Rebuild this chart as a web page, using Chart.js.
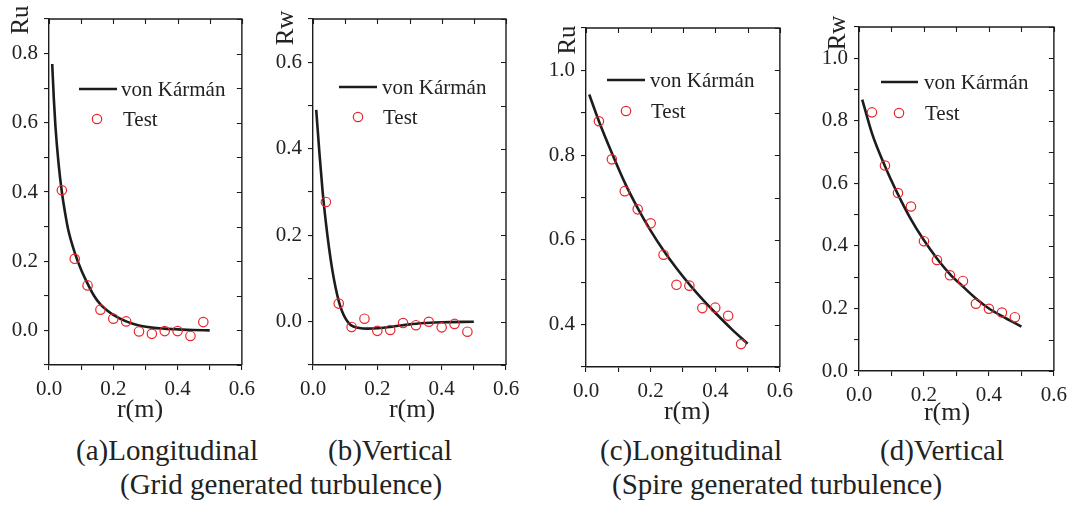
<!DOCTYPE html>
<html>
<head>
<meta charset="utf-8">
<script src="https://cdn.jsdelivr.net/npm/chart.js@4.4.0/dist/chart.umd.min.js"></script>
<style>
  body { margin: 0; background: #fff; width: 1074px; height: 505px; position: relative; overflow: hidden;
         font-family: 'Liberation Serif', 'Times New Roman', serif; }
  canvas { position: absolute; top: 0; }
  .cap { position: absolute; font-size: 29px; line-height: 29px; color: #222; white-space: nowrap; }
</style>
</head>
<body>
<canvas id="pa" width="262" height="425" style="left:0px"></canvas>
<canvas id="pb" width="268" height="425" style="left:262px"></canvas>
<canvas id="pc" width="270" height="425" style="left:530px"></canvas>
<canvas id="pd" width="274" height="425" style="left:800px"></canvas>

<div class="cap" style="left:76px;top:436px">(a)Longitudinal</div>
<div class="cap" style="left:328px;top:436px">(b)Vertical</div>
<div class="cap" style="left:600px;top:436px">(c)Longitudinal</div>
<div class="cap" style="left:880px;top:436px">(d)Vertical</div>
<div class="cap" style="left:120px;top:470px">(Grid generated turbulence)</div>
<div class="cap" style="left:612px;top:470px">(Spire generated turbulence)</div>

<script>
// ---------- data ----------
const rTest = [0.04, 0.08, 0.12, 0.16, 0.20, 0.24, 0.28, 0.32, 0.36, 0.40, 0.44, 0.48];

const ruGridTest  = [0.405, 0.207, 0.130, 0.060, 0.034, 0.026, -0.003, -0.010, -0.002, -0.002, -0.016, 0.024];
const rwGridTest  = [0.277, 0.042, -0.012, 0.007, -0.021, -0.019, -0.003, -0.008, 0.000, -0.013, -0.005, -0.023];
const ruSpireTest = [0.880, 0.790, 0.715, 0.672, 0.639, 0.565, 0.494, 0.492, 0.439, 0.440, 0.421, 0.354];
const rwSpireTest = [0.827, 0.657, 0.569, 0.526, 0.415, 0.355, 0.306, 0.288, 0.215, 0.199, 0.187, 0.172];

// von Karman curves (sampled by eye)
const rGridU  = [0.01, 0.015, 0.02, 0.03, 0.04, 0.05, 0.06, 0.08, 0.10, 0.12, 0.14, 0.16, 0.18, 0.20, 0.24, 0.28, 0.32, 0.36, 0.40, 0.45, 0.50];
const ruGridK = [0.77, 0.67, 0.59, 0.48, 0.40, 0.34, 0.29, 0.225, 0.175, 0.135, 0.10, 0.075, 0.058, 0.045, 0.026, 0.014, 0.008, 0.005, 0.003, 0.001, 0.0];

const rGridW  = [0.01, 0.02, 0.03, 0.04, 0.05, 0.06, 0.07, 0.08, 0.09, 0.10, 0.11, 0.12, 0.14, 0.17, 0.20, 0.25, 0.30, 0.35, 0.40, 0.50];
const rwGridK = [0.49, 0.39, 0.30, 0.23, 0.17, 0.12, 0.08, 0.048, 0.025, 0.009, -0.002, -0.009, -0.014, -0.016, -0.015, -0.011, -0.006, -0.003, -0.001, 0.0];

const rSpire   = [0.01, 0.04, 0.08, 0.12, 0.16, 0.20, 0.24, 0.28, 0.32, 0.36, 0.40, 0.45, 0.50];
const ruSpireK = [0.943, 0.88, 0.805, 0.735, 0.675, 0.622, 0.575, 0.533, 0.495, 0.46, 0.428, 0.39, 0.355];
const rwSpireK = [0.868, 0.76, 0.655, 0.565, 0.485, 0.418, 0.36, 0.31, 0.27, 0.232, 0.20, 0.17, 0.142];

const seriesNames = ['von Kármán', 'Test'];
const xTickLabels = ['0.0', '0.2', '0.4', '0.6'];

// ---------- look ----------
const FONT = "'Liberation Serif', 'Times New Roman', serif";
const INK = '#1c1c1c';
const RED = '#e8262b';

function pts(xs, ys) { return xs.map((x, i) => ({ x, y: ys[i] })); }

// frame (top/right), inward ticks, legend and axis titles
const panelDeco = {
  id: 'panelDeco',
  afterDraw(chart, args, o) {
    const { ctx, chartArea: a, scales: { x, y } } = chart;
    const off = o.offset;
    ctx.save();
    ctx.strokeStyle = INK;
    ctx.lineWidth = 1.4;
    ctx.beginPath();
    ctx.moveTo(a.left, a.top); ctx.lineTo(a.right, a.top); ctx.lineTo(a.right, a.bottom);
    ctx.stroke();

    ctx.lineWidth = 1.1;
    ctx.beginPath();
    for (let i = Math.round(x.min * 10); i <= Math.round(x.max * 10); i++) {
      const px = Math.round(x.getPixelForValue(i / 10)) + 0.5;
      ctx.moveTo(px, a.top); ctx.lineTo(px, a.top + 5);
    }
    for (let i = Math.round(y.min * 10); i <= Math.round(y.max * 10); i++) {
      const py = Math.round(y.getPixelForValue(i / 10)) + 0.5;
      ctx.moveTo(a.right, py); ctx.lineTo(a.right - 5, py);
    }
    ctx.stroke();

    // legend
    const ds = chart.data.datasets;
    const L = o.legend;
    ctx.strokeStyle = ds[0].borderColor;
    ctx.lineWidth = ds[0].borderWidth;
    ctx.beginPath();
    ctx.moveTo(L.x0 - off, L.y1); ctx.lineTo(L.x1 - off, L.y1);
    ctx.stroke();
    ctx.strokeStyle = ds[1].borderColor;
    ctx.lineWidth = ds[1].borderWidth;
    ctx.beginPath();
    ctx.arc(L.cx - off, L.y2, ds[1].pointRadius, 0, Math.PI * 2);
    ctx.stroke();
    ctx.fillStyle = '#222';
    ctx.font = '21px ' + FONT;
    ctx.textBaseline = 'middle';
    ctx.textAlign = 'left';
    ctx.fillText(ds[0].label, L.tx1 - off, L.y1 + 1);
    ctx.fillText(ds[1].label, L.tx2 - off, L.y2 + 1);

    // x title
    ctx.textAlign = 'center';
    ctx.font = '26px ' + FONT;
    ctx.fillText(o.xTitle, o.xt.x - off, o.xt.y);

    // y title (rotated)
    ctx.translate(o.yt.x - off, o.yt.y);
    ctx.rotate(-Math.PI / 2);
    ctx.font = '25px ' + FONT;
    ctx.fillText(o.yTitle, 0, 1);
    ctx.restore();
  }
};

function tickLabel(v) {
  const t = Math.round(v * 10);
  return t % 2 === 0 ? (t / 10).toFixed(1) : '';
}

function makePanel(id, p) {
  const H = 425;
  new Chart(document.getElementById(id), {
    type: 'scatter',
    data: {
      datasets: [
        {
          label: seriesNames[0],
          data: pts(p.curveX, p.curveY),
          showLine: true,
          borderColor: INK,
          borderWidth: 2.6,
          pointRadius: 0,
          tension: 0.4,
          cubicInterpolationMode: 'monotone',
          order: 2
        },
        {
          label: seriesNames[1],
          data: pts(rTest, p.test),
          showLine: false,
          borderColor: RED,
          backgroundColor: 'rgba(0,0,0,0)',
          borderWidth: 1.2,
          pointRadius: 4.7,
          pointStyle: 'circle',
          order: 1
        }
      ]
    },
    options: {
      responsive: false,
      animation: false,
      layout: { padding: { left: 0, top: p.top, right: p.padR, bottom: 0 } },
      plugins: {
        legend: { display: false },
        tooltip: { enabled: false },
        panelDeco: p.deco
      },
      scales: {
        x: {
          type: 'linear', min: 0, max: 0.6,
          afterFit: s => { s.height = H - p.bottom; },
          border: { display: true, color: INK, width: 1.4 },
          grid: { drawOnChartArea: false, drawTicks: true, tickLength: 5, color: INK, lineWidth: 1.1 },
          ticks: {
            stepSize: 0.1, autoSkip: false, maxRotation: 0, padding: 7,
            color: '#222', font: { family: FONT, size: 21 },
            callback: v => { const s = tickLabel(v); return xTickLabels.includes(s) ? s : ''; }
          }
        },
        y: {
          type: 'linear', min: p.yMin, max: p.yMax,
          afterFit: s => { s.width = p.left; },
          border: { display: true, color: INK, width: 1.4 },
          grid: { drawOnChartArea: false, drawTicks: true, tickLength: 5, color: INK, lineWidth: 1.1 },
          ticks: {
            stepSize: 0.1, autoSkip: false, padding: 6,
            color: '#222', font: { family: FONT, size: 21 },
            callback: tickLabel
          }
        }
      }
    },
    plugins: [panelDeco]
  });
}

makePanel('pa', {
  curveX: rGridU, curveY: ruGridK, test: ruGridTest,
  yMin: -0.1, yMax: 0.9, left: 49, top: 19, padR: 18, bottom: 365,
  deco: { offset: 0, yTitle: 'Ru', xTitle: 'r(m)', yt: { x: 20, y: 20 }, xt: { x: 140, y: 410 },
          legend: { x0: 79, x1: 117, y1: 89, tx1: 121, cx: 97, y2: 119, tx2: 123 } }
});
makePanel('pb', {
  curveX: rGridW, curveY: rwGridK, test: rwGridTest,
  yMin: -0.1, yMax: 0.7, left: 51, top: 19, padR: 24, bottom: 365,
  deco: { offset: 262, yTitle: 'Rw', xTitle: 'r(m)', yt: { x: 285, y: 28 }, xt: { x: 412, y: 410 },
          legend: { x0: 339, x1: 377, y1: 87, tx1: 382, cx: 358, y2: 117, tx2: 383 } }
});
makePanel('pc', {
  curveX: rSpire, curveY: ruSpireK, test: ruSpireTest,
  yMin: 0.3, yMax: 1.1, left: 56, top: 28, padR: 16, bottom: 367,
  deco: { offset: 530, yTitle: 'Ru', xTitle: 'r(m)', yt: { x: 567, y: 40 }, xt: { x: 687, y: 412 },
          legend: { x0: 607, x1: 645, y1: 80, tx1: 650, cx: 626, y2: 111, tx2: 651 } }
});
makePanel('pd', {
  curveX: rSpire, curveY: rwSpireK, test: rwSpireTest,
  yMin: 0.0, yMax: 1.1, left: 59, top: 27, padR: 18, bottom: 371,
  deco: { offset: 800, yTitle: 'Rw', xTitle: 'r(m)', yt: { x: 837, y: 33 }, xt: { x: 947, y: 413 },
          legend: { x0: 881, x1: 918, y1: 82, tx1: 924, cx: 899, y2: 113, tx2: 925 } }
});
</script>
</body>
</html>
